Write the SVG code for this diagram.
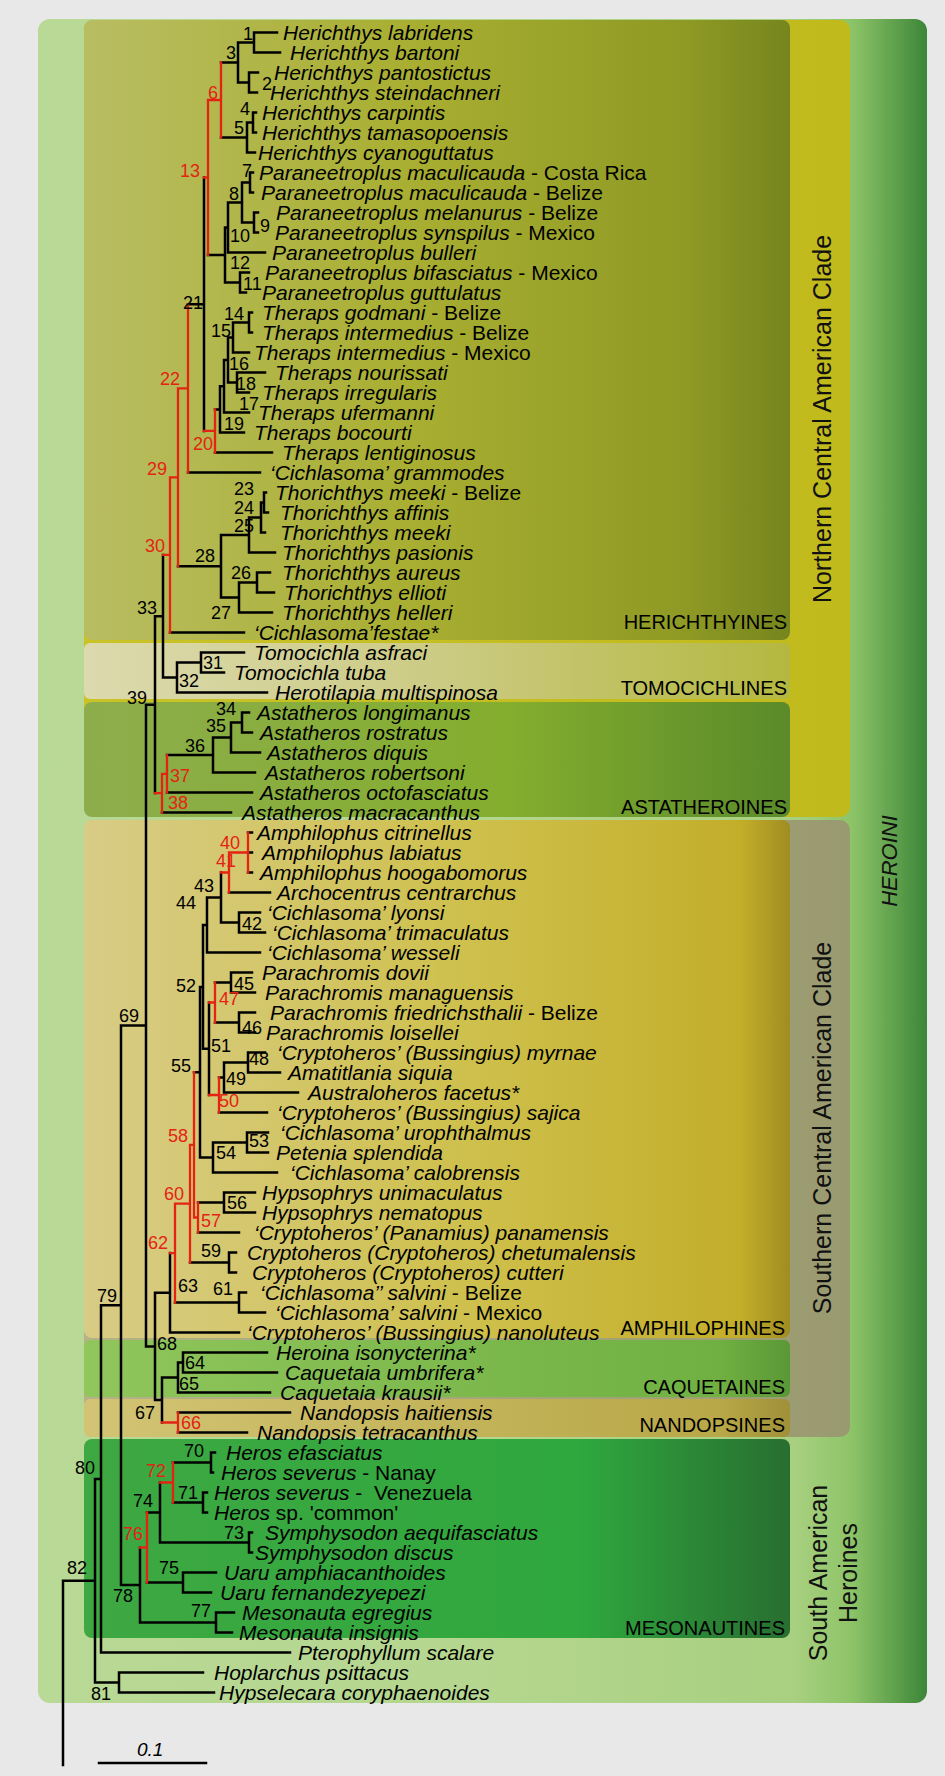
<svg xmlns="http://www.w3.org/2000/svg" width="945" height="1776" viewBox="0 0 945 1776">
<defs>
<style>
.t{font-family:"Liberation Sans",Arial,sans-serif;font-style:italic;font-size:21px;fill:#000}
.u{font-style:normal}
.l{font-family:"Liberation Sans",Arial,sans-serif;font-size:18px;fill:#000}
.lr{fill:#e42313}
.c{font-family:"Liberation Sans",Arial,sans-serif;font-size:20px;fill:#000;text-anchor:end}
.v{font-family:"Liberation Sans",Arial,sans-serif;font-size:25px;fill:#111;text-anchor:middle}
.blk{fill:none;stroke:#000;stroke-width:2.5;stroke-linecap:square}
.red{fill:none;stroke:#e42313;stroke-width:2.3;stroke-linecap:square}
</style>
<linearGradient id="gOut" gradientUnits="userSpaceOnUse" x1="38" y1="0" x2="927" y2="0">
<stop offset="0" stop-color="#b9d996"/><stop offset="0.5" stop-color="#b4d68e"/><stop offset="0.85" stop-color="#a8d080"/><stop offset="0.915" stop-color="#8ec468"/><stop offset="1" stop-color="#3c8638"/>
</linearGradient>
<linearGradient id="gNorth" x1="0" y1="0" x2="1" y2="0"><stop offset="0" stop-color="#c9c328"/><stop offset="1" stop-color="#c0ba1c"/></linearGradient>
<linearGradient id="gSouth" x1="0" y1="0" x2="1" y2="0"><stop offset="0" stop-color="#b4b286"/><stop offset="1" stop-color="#9a9a70"/></linearGradient>
<linearGradient id="gHer" x1="0" y1="0" x2="1" y2="0"><stop offset="0" stop-color="#b9bd62"/><stop offset="0.45" stop-color="#a9af32"/><stop offset="0.85" stop-color="#8f9a24"/><stop offset="1" stop-color="#76861e"/></linearGradient>
<linearGradient id="gTom" x1="0" y1="0" x2="1" y2="0"><stop offset="0" stop-color="#dcdaae"/><stop offset="0.5" stop-color="#cccb84"/><stop offset="1" stop-color="#b4b840"/></linearGradient>
<linearGradient id="gAst" x1="0" y1="0" x2="1" y2="0"><stop offset="0" stop-color="#8dad4c"/><stop offset="0.6" stop-color="#84ae2e"/><stop offset="1" stop-color="#5a8a2a"/></linearGradient>
<linearGradient id="gAmp" x1="0" y1="0" x2="1" y2="0"><stop offset="0" stop-color="#d8cc86"/><stop offset="0.55" stop-color="#cec04c"/><stop offset="0.93" stop-color="#c3ae2a"/><stop offset="1" stop-color="#a08c22"/></linearGradient>
<linearGradient id="gCaq" x1="0" y1="0" x2="1" y2="0"><stop offset="0" stop-color="#90c65c"/><stop offset="0.9" stop-color="#70b042"/><stop offset="1" stop-color="#5a9836"/></linearGradient>
<linearGradient id="gNan" x1="0" y1="0" x2="1" y2="0"><stop offset="0" stop-color="#d2c474"/><stop offset="0.9" stop-color="#b8a848"/><stop offset="1" stop-color="#a09038"/></linearGradient>
<linearGradient id="gMes" x1="0" y1="0" x2="1" y2="0"><stop offset="0" stop-color="#3ea842"/><stop offset="0.7" stop-color="#2fa83e"/><stop offset="1" stop-color="#286e30"/></linearGradient>
</defs>
<rect x="0" y="0" width="945" height="1776" fill="#e8e8e8"/>
<g id="boxes">
<rect id="heroini" x="38" y="19" width="889" height="1684" rx="12" fill="url(#gOut)"/>
<rect id="northern" x="84" y="20" width="766" height="797" rx="10" fill="url(#gNorth)"/>
<rect id="southern" x="84" y="820" width="766" height="617" rx="10" fill="url(#gSouth)"/>
<rect id="herichthyines" x="84" y="20" width="706" height="620" rx="8" fill="url(#gHer)"/>
<rect id="tomocichlines" x="84" y="643" width="706" height="56" rx="6" fill="url(#gTom)"/>
<rect id="astatheroines" x="84" y="702" width="706" height="115" rx="8" fill="url(#gAst)"/>
<rect id="amphilophines" x="84" y="820" width="706" height="518" rx="8" fill="url(#gAmp)"/>
<rect id="caquetaines" x="84" y="1340" width="706" height="57" rx="6" fill="url(#gCaq)"/>
<rect id="nandopsines" x="84" y="1399" width="706" height="38" rx="6" fill="url(#gNan)"/>
<rect id="mesonautines" x="84" y="1439" width="706" height="199" rx="8" fill="url(#gMes)"/>
</g>
<g id="group-labels">
<text class="v" transform="translate(822,419) rotate(-90)" dy="9">Northern Central American Clade</text>
<text class="v" transform="translate(822,1128) rotate(-90)" dy="9">Southern Central American Clade</text>
<text class="v" transform="translate(818,1573) rotate(-90)" dy="9">South American</text>
<text class="v" transform="translate(848,1573) rotate(-90)" dy="9">Heroines</text>
<text class="v" transform="translate(889,861) rotate(-90)" dy="8" style="font-style:italic;font-size:22px">HEROINI</text>
<text class="c" x="787" y="629">HERICHTHYINES</text>
<text class="c" x="787" y="695">TOMOCICHLINES</text>
<text class="c" x="787" y="814">ASTATHEROINES</text>
<text class="c" x="785" y="1335">AMPHILOPHINES</text>
<text class="c" x="785" y="1394">CAQUETAINES</text>
<text class="c" x="785" y="1432">NANDOPSINES</text>
<text class="c" x="785" y="1635">MESONAUTINES</text>
</g>
<g id="connectors">
<path class="blk" d="M254 32.5V52.5M254 32.5H277M254 52.5H280M249 72.5V92.5M249 72.5H258M249 92.5H257M238 42.5V82.5M238 42.5H254M238 82.5H249M253 112.5V132.5M253 112.5H256M253 132.5H256M247 122.5V152.5M247 122.5H253M247 152.5H255M221 62.5H238M221 137.5H247M250 172.5V192.5M250 172.5H253M250 192.5H253M254 212.5V232.5M254 212.5H258M254 232.5H258M242 182.5V222.5M242 182.5H250M242 222.5H254M228 202.5V252.5M228 202.5H242M228 252.5H265M240 272.5V292.5M240 272.5H249M240 292.5H246M225 227.5V282.5M225 227.5H228M225 282.5H240M208 255H225M249 312.5V332.5M249 312.5H252M249 332.5H252M233 322.5V352.5M233 322.5H249M233 352.5H249M237 372.5V392.5M237 372.5H265M237 392.5H249M228 337.5V382.5M228 337.5H233M228 382.5H237M224 360V412.5M224 360H228M224 412.5H249M220 386.3V432.5M220 386.3H224M220 432.5H244M215 409.4H220M215 452.5H272M204 177.5V430.9M188 304.2H204M188 472.5H260M264 492.5V512.5M264 492.5H266M264 512.5H268M261 502.5V532.5M261 502.5H264M261 532.5H265M249 517.5V552.5M249 517.5H261M249 552.5H275M257 572.5V592.5M257 572.5H270M257 592.5H274M239 582.5V612.5M239 582.5H257M239 612.5H272M221 535V597.5M221 535H249M221 597.5H239M178 566.3H221M170 632.5H244M201 652.5V672.5M201 652.5H244M201 672.5H224M177 662.5V692.5M177 662.5H201M177 692.5H267M163 554.9V677.5M163 677.5H177M242 712.5V732.5M242 712.5H249M242 732.5H252M231 722.5V752.5M231 722.5H242M231 752.5H260M213 737.5V772.5M213 737.5H231M213 772.5H255M167 755H213M167 792.5H252M162 812.5H231M155 616.2V793.1M155 616.2H163M248 832.5H252M248 852.5H252M248 872.5H252M229 892.5H270M239 912.5V932.5M239 912.5H260M239 932.5H265M221 872.5V922.5M221 922.5H239M207 897.5V952.5M207 897.5H221M207 952.5H260M231 972.5V992.5M231 972.5H252M231 992.5H255M239 1012.5V1032.5M239 1012.5H255M239 1032.5H255M215 982.5H231M215 1022.5H239M248 1052.5V1072.5M248 1052.5H265M248 1072.5H280M224 1062.5V1092.5M224 1062.5H248M224 1092.5H298M219 1077.5H224M219 1112.5H267M209 1002.5V1095M203 925V1048.8M203 925H207M203 1048.8H209M247 1132.5V1152.5M247 1132.5H268M247 1152.5H268M213 1142.5V1172.5M213 1142.5H247M213 1172.5H277M200 986.9V1157.5M200 986.9H203M200 1157.5H213M224 1192.5V1212.5M224 1192.5H255M224 1212.5H255M198 1202.5H224M198 1232.5H239M194 1072.2H200M229 1252.5V1272.5M229 1252.5H236M229 1272.5H236M190 1262.5H229M239 1292.5V1312.5M239 1292.5H246M239 1312.5H265M175 1302.5H239M170 1253.1V1332.5M170 1332.5H239M183 1352.5V1372.5M183 1352.5H267M183 1372.5H277M178 1362.5V1392.5M178 1362.5H183M178 1392.5H270M178 1412.5H290M178 1432.5H247M162 1377.5V1422.5M162 1377.5H178M155 1292.8V1400M155 1292.8H170M155 1400H162M146 704.7V1346.4M146 704.7H155M146 1346.4H155M211 1452.5V1472.5M211 1452.5H215M211 1472.5H213M203 1492.5V1512.5M203 1492.5H207M203 1512.5H207M173 1462.5H211M173 1502.5H203M249 1532.5V1552.5M249 1532.5H252M249 1552.5H252M160 1482.5V1542.5M160 1542.5H249M183 1572.5V1592.5M183 1572.5H216M183 1592.5H211M147 1512.5H160M147 1582.5H183M216 1612.5V1632.5M216 1612.5H234M216 1632.5H232M140 1547.5V1622.5M140 1622.5H216M121 1025.5V1585M121 1025.5H146M121 1585H140M101 1305.3V1652.5M101 1305.3H121M101 1652.5H290M119 1672.5V1692.5M119 1672.5H203M119 1692.5H214M95 1478.9V1682.5M95 1478.9H101M95 1682.5H119M63 1580.7V1765M63 1580.7H95"/>
<path class="red" d="M221 62.5V137.5M208 100H221M208 100V255M204 177.5H208M215 409.4V452.5M204 430.9H215M188 304.2V472.5M178 388.4H188M178 388.4V566.3M170 477.3H178M170 477.3V632.5M163 554.9H170M167 755V792.5M162 773.8H167M162 773.8V812.5M155 793.1H162M248 832.5V872.5M229 852.5H248M229 852.5V892.5M221 872.5H229M215 982.5V1022.5M209 1002.5H215M219 1077.5V1112.5M209 1095H219M198 1202.5V1232.5M194 1217.5H198M194 1072.2V1217.5M190 1144.8H194M190 1144.8V1262.5M175 1203.7H190M175 1203.7V1302.5M170 1253.1H175M178 1412.5V1432.5M162 1422.5H178M173 1462.5V1502.5M160 1482.5H173M147 1512.5V1582.5M140 1547.5H147"/>
<path class="blk" d="M99 1763H206"/>
</g>
<g id="scale"><text class="t" x="137" y="1756" style="font-size:19px">0.1</text></g>
<g id="taxa">
<g id="tx1"><text class="t" x="283" y="39.5">Herichthys labridens</text></g>
<g id="tx2"><text class="t" x="290" y="59.5">Herichthys bartoni</text></g>
<g id="tx3"><text class="t" x="274" y="79.5">Herichthys pantostictus</text></g>
<g id="tx4"><text class="t" x="270" y="99.5">Herichthys steindachneri</text></g>
<g id="tx5"><text class="t" x="262" y="119.5">Herichthys carpintis</text></g>
<g id="tx6"><text class="t" x="262" y="139.5">Herichthys tamasopoensis</text></g>
<g id="tx7"><text class="t" x="258" y="159.5">Herichthys cyanoguttatus</text></g>
<g id="tx8"><text class="t" x="259" y="179.5">Paraneetroplus maculicauda<tspan class="u"> - Costa Rica</tspan></text></g>
<g id="tx9"><text class="t" x="261" y="199.5">Paraneetroplus maculicauda<tspan class="u"> - Belize</tspan></text></g>
<g id="tx10"><text class="t" x="276" y="219.5">Paraneetroplus melanurus<tspan class="u"> - Belize</tspan></text></g>
<g id="tx11"><text class="t" x="275" y="239.5">Paraneetroplus synspilus<tspan class="u"> - Mexico</tspan></text></g>
<g id="tx12"><text class="t" x="272" y="259.5">Paraneetroplus bulleri</text></g>
<g id="tx13"><text class="t" x="265" y="279.5">Paraneetroplus bifasciatus<tspan class="u"> - Mexico</tspan></text></g>
<g id="tx14"><text class="t" x="262" y="299.5">Paraneetroplus guttulatus</text></g>
<g id="tx15"><text class="t" x="262" y="319.5">Theraps godmani<tspan class="u"> - Belize</tspan></text></g>
<g id="tx16"><text class="t" x="262" y="339.5">Theraps intermedius<tspan class="u"> - Belize</tspan></text></g>
<g id="tx17"><text class="t" x="254" y="359.5">Theraps intermedius<tspan class="u"> - Mexico</tspan></text></g>
<g id="tx18"><text class="t" x="275" y="379.5">Theraps nourissati</text></g>
<g id="tx19"><text class="t" x="262" y="399.5">Theraps irregularis</text></g>
<g id="tx20"><text class="t" x="258" y="419.5">Theraps ufermanni</text></g>
<g id="tx21"><text class="t" x="254" y="439.5">Theraps bocourti</text></g>
<g id="tx22"><text class="t" x="282" y="459.5">Theraps lentiginosus</text></g>
<g id="tx23"><text class="t" x="270" y="479.5">‘Cichlasoma’ grammodes</text></g>
<g id="tx24"><text class="t" x="275" y="499.5">Thorichthys meeki<tspan class="u"> - Belize</tspan></text></g>
<g id="tx25"><text class="t" x="280" y="519.5">Thorichthys affinis</text></g>
<g id="tx26"><text class="t" x="280" y="539.5">Thorichthys meeki</text></g>
<g id="tx27"><text class="t" x="282" y="559.5">Thorichthys pasionis</text></g>
<g id="tx28"><text class="t" x="282" y="579.5">Thorichthys aureus</text></g>
<g id="tx29"><text class="t" x="284" y="599.5">Thorichthys ellioti</text></g>
<g id="tx30"><text class="t" x="282" y="619.5">Thorichthys helleri</text></g>
<g id="tx31"><text class="t" x="254" y="639.5">‘Cichlasoma’festae*</text></g>
<g id="tx32"><text class="t" x="254" y="659.5">Tomocichla asfraci</text></g>
<g id="tx33"><text class="t" x="234" y="679.5">Tomocichla tuba</text></g>
<g id="tx34"><text class="t" x="275" y="699.5">Herotilapia multispinosa</text></g>
<g id="tx35"><text class="t" x="257" y="719.5">Astatheros longimanus</text></g>
<g id="tx36"><text class="t" x="260" y="739.5">Astatheros rostratus</text></g>
<g id="tx37"><text class="t" x="267" y="759.5">Astatheros diquis</text></g>
<g id="tx38"><text class="t" x="265" y="779.5">Astatheros robertsoni</text></g>
<g id="tx39"><text class="t" x="260" y="799.5">Astatheros octofasciatus</text></g>
<g id="tx40"><text class="t" x="242" y="819.5">Astatheros macracanthus</text></g>
<g id="tx41"><text class="t" x="257" y="839.5">Amphilophus citrinellus</text></g>
<g id="tx42"><text class="t" x="262" y="859.5">Amphilophus labiatus</text></g>
<g id="tx43"><text class="t" x="260" y="879.5">Amphilophus hoogabomorus</text></g>
<g id="tx44"><text class="t" x="277" y="899.5">Archocentrus centrarchus</text></g>
<g id="tx45"><text class="t" x="267" y="919.5">‘Cichlasoma’ lyonsi</text></g>
<g id="tx46"><text class="t" x="272" y="939.5">‘Cichlasoma’ trimaculatus</text></g>
<g id="tx47"><text class="t" x="267" y="959.5">‘Cichlasoma’ wesseli</text></g>
<g id="tx48"><text class="t" x="262" y="979.5">Parachromis dovii</text></g>
<g id="tx49"><text class="t" x="265" y="999.5">Parachromis managuensis</text></g>
<g id="tx50"><text class="t" x="270" y="1019.5">Parachromis friedrichsthalii<tspan class="u"> - Belize</tspan></text></g>
<g id="tx51"><text class="t" x="266" y="1039.5">Parachromis loisellei</text></g>
<g id="tx52"><text class="t" x="277" y="1059.5">‘Cryptoheros’ (Bussingius) myrnae</text></g>
<g id="tx53"><text class="t" x="288" y="1079.5">Amatitlania siquia</text></g>
<g id="tx54"><text class="t" x="308" y="1099.5">Australoheros facetus*</text></g>
<g id="tx55"><text class="t" x="277" y="1119.5">‘Cryptoheros’ (Bussingius) sajica</text></g>
<g id="tx56"><text class="t" x="280" y="1139.5">‘Cichlasoma’ urophthalmus</text></g>
<g id="tx57"><text class="t" x="276" y="1159.5">Petenia splendida</text></g>
<g id="tx58"><text class="t" x="290" y="1179.5">‘Cichlasoma’ calobrensis</text></g>
<g id="tx59"><text class="t" x="262" y="1199.5">Hypsophrys unimaculatus</text></g>
<g id="tx60"><text class="t" x="262" y="1219.5">Hypsophrys nematopus</text></g>
<g id="tx61"><text class="t" x="254" y="1239.5">‘Cryptoheros’ (Panamius) panamensis</text></g>
<g id="tx62"><text class="t" x="247" y="1259.5">Cryptoheros (Cryptoheros) chetumalensis</text></g>
<g id="tx63"><text class="t" x="252" y="1279.5">Cryptoheros (Cryptoheros) cutteri</text></g>
<g id="tx64"><text class="t" x="260" y="1299.5">‘Cichlasoma’’ salvini<tspan class="u"> - Belize</tspan></text></g>
<g id="tx65"><text class="t" x="275" y="1319.5">‘Cichlasoma’ salvini<tspan class="u"> - Mexico</tspan></text></g>
<g id="tx66"><text class="t" x="247" y="1339.5">‘Cryptoheros’ (Bussingius) nanoluteus</text></g>
<g id="tx67"><text class="t" x="276" y="1359.5">Heroina isonycterina*</text></g>
<g id="tx68"><text class="t" x="285" y="1379.5">Caquetaia umbrifera*</text></g>
<g id="tx69"><text class="t" x="280" y="1399.5">Caquetaia krausii*</text></g>
<g id="tx70"><text class="t" x="300" y="1419.5">Nandopsis haitiensis</text></g>
<g id="tx71"><text class="t" x="257" y="1439.5">Nandopsis tetracanthus</text></g>
<g id="tx72"><text class="t" x="226" y="1459.5">Heros efasciatus</text></g>
<g id="tx73"><text class="t" x="221" y="1479.5">Heros severus<tspan class="u"> - Nanay</tspan></text></g>
<g id="tx74"><text class="t" x="214" y="1499.5">Heros severus<tspan class="u"> -&#160; Venezuela</tspan></text></g>
<g id="tx75"><text class="t" x="214" y="1519.5">Heros<tspan class="u"> sp. 'common'</tspan></text></g>
<g id="tx76"><text class="t" x="265" y="1539.5">Symphysodon aequifasciatus</text></g>
<g id="tx77"><text class="t" x="255" y="1559.5">Symphysodon discus</text></g>
<g id="tx78"><text class="t" x="224" y="1579.5">Uaru amphiacanthoides</text></g>
<g id="tx79"><text class="t" x="220" y="1599.5">Uaru fernandezyepezi</text></g>
<g id="tx80"><text class="t" x="242" y="1619.5">Mesonauta egregius</text></g>
<g id="tx81"><text class="t" x="239" y="1639.5">Mesonauta insignis</text></g>
<g id="tx82"><text class="t" x="298" y="1659.5">Pterophyllum scalare</text></g>
<g id="tx83"><text class="t" x="214" y="1679.5">Hoplarchus psittacus</text></g>
<g id="tx84"><text class="t" x="219" y="1699.5">Hypselecara coryphaenoides</text></g>
</g>
<g id="nodes">
<g id="n1"><text class="l" x="243" y="39.5">1</text></g>
<g id="n2"><text class="l" x="262" y="89.5">2</text></g>
<g id="n3"><text class="l" x="226" y="58.5">3</text></g>
<g id="n4"><text class="l" x="240" y="114.5">4</text></g>
<g id="n5"><text class="l" x="234" y="133.5">5</text></g>
<g id="n6"><text class="l lr" x="208" y="98.5">6</text></g>
<g id="n7"><text class="l" x="242" y="176.5">7</text></g>
<g id="n8"><text class="l" x="229" y="199.5">8</text></g>
<g id="n9"><text class="l" x="260" y="231.5">9</text></g>
<g id="n10"><text class="l" x="230" y="241.5">10</text></g>
<g id="n11"><text class="l" x="243" y="289.5">11</text></g>
<g id="n12"><text class="l" x="230" y="268.5">12</text></g>
<g id="n13"><text class="l lr" x="180" y="176.5">13</text></g>
<g id="n14"><text class="l" x="224" y="319.5">14</text></g>
<g id="n15"><text class="l" x="211" y="336.5">15</text></g>
<g id="n16"><text class="l" x="229" y="369.5">16</text></g>
<g id="n17"><text class="l" x="239" y="409.5">17</text></g>
<g id="n18"><text class="l" x="236" y="389.5">18</text></g>
<g id="n19"><text class="l" x="224" y="429.5">19</text></g>
<g id="n20"><text class="l lr" x="193" y="449.5">20</text></g>
<g id="n21"><text class="l" x="183" y="308.5">21</text></g>
<g id="n22"><text class="l lr" x="160" y="384.5">22</text></g>
<g id="n23"><text class="l" x="234" y="494.5">23</text></g>
<g id="n24"><text class="l" x="234" y="513.5">24</text></g>
<g id="n25"><text class="l" x="234" y="531.5">25</text></g>
<g id="n26"><text class="l" x="231" y="578.5">26</text></g>
<g id="n27"><text class="l" x="211" y="618.5">27</text></g>
<g id="n28"><text class="l" x="195" y="561.5">28</text></g>
<g id="n29"><text class="l lr" x="147" y="474.5">29</text></g>
<g id="n30"><text class="l lr" x="145" y="551.5">30</text></g>
<g id="n31"><text class="l" x="203" y="668.5">31</text></g>
<g id="n32"><text class="l" x="179" y="686.5">32</text></g>
<g id="n33"><text class="l" x="137" y="613.5">33</text></g>
<g id="n34"><text class="l" x="216" y="714.5">34</text></g>
<g id="n35"><text class="l" x="206" y="731.5">35</text></g>
<g id="n36"><text class="l" x="185" y="751.5">36</text></g>
<g id="n37"><text class="l lr" x="170" y="781.5">37</text></g>
<g id="n38"><text class="l lr" x="168" y="808.5">38</text></g>
<g id="n39"><text class="l" x="127" y="703.5">39</text></g>
<g id="n40"><text class="l lr" x="220" y="848.5">40</text></g>
<g id="n41"><text class="l lr" x="216" y="866.5">41</text></g>
<g id="n42"><text class="l" x="242" y="929.5">42</text></g>
<g id="n43"><text class="l" x="194" y="891.5">43</text></g>
<g id="n44"><text class="l" x="176" y="908.5">44</text></g>
<g id="n45"><text class="l" x="234" y="989.5">45</text></g>
<g id="n46"><text class="l" x="242" y="1033.5">46</text></g>
<g id="n47"><text class="l lr" x="219" y="1004.5">47</text></g>
<g id="n48"><text class="l" x="249" y="1064.5">48</text></g>
<g id="n49"><text class="l" x="226" y="1084.5">49</text></g>
<g id="n50"><text class="l lr" x="219" y="1106.5">50</text></g>
<g id="n51"><text class="l" x="211" y="1051.5">51</text></g>
<g id="n52"><text class="l" x="176" y="991.5">52</text></g>
<g id="n53"><text class="l" x="249" y="1146.5">53</text></g>
<g id="n54"><text class="l" x="216" y="1158.5">54</text></g>
<g id="n55"><text class="l" x="171" y="1071.5">55</text></g>
<g id="n56"><text class="l" x="227" y="1208.5">56</text></g>
<g id="n57"><text class="l lr" x="201" y="1226.5">57</text></g>
<g id="n58"><text class="l lr" x="168" y="1141.5">58</text></g>
<g id="n59"><text class="l" x="201" y="1256.5">59</text></g>
<g id="n60"><text class="l lr" x="164" y="1199.5">60</text></g>
<g id="n61"><text class="l" x="213" y="1294.5">61</text></g>
<g id="n62"><text class="l lr" x="148" y="1248.5">62</text></g>
<g id="n63"><text class="l" x="178" y="1291.5">63</text></g>
<g id="n64"><text class="l" x="185" y="1368.5">64</text></g>
<g id="n65"><text class="l" x="179" y="1389.5">65</text></g>
<g id="n66"><text class="l lr" x="181" y="1428.5">66</text></g>
<g id="n67"><text class="l" x="135" y="1418.5">67</text></g>
<g id="n68"><text class="l" x="157" y="1349.5">68</text></g>
<g id="n69"><text class="l" x="119" y="1021.5">69</text></g>
<g id="n70"><text class="l" x="184" y="1456.5">70</text></g>
<g id="n71"><text class="l" x="178" y="1498.5">71</text></g>
<g id="n72"><text class="l lr" x="146" y="1476.5">72</text></g>
<g id="n73"><text class="l" x="224" y="1539">73</text></g>
<g id="n74"><text class="l" x="133" y="1506.5">74</text></g>
<g id="n75"><text class="l" x="159" y="1573.5">75</text></g>
<g id="n76"><text class="l lr" x="123" y="1539.5">76</text></g>
<g id="n77"><text class="l" x="191" y="1616.5">77</text></g>
<g id="n78"><text class="l" x="113" y="1601.5">78</text></g>
<g id="n79"><text class="l" x="97" y="1301.5">79</text></g>
<g id="n80"><text class="l" x="75" y="1473.5">80</text></g>
<g id="n81"><text class="l" x="91" y="1699.5">81</text></g>
<g id="n82"><text class="l" x="67" y="1573.5">82</text></g>
</g>
</svg>
